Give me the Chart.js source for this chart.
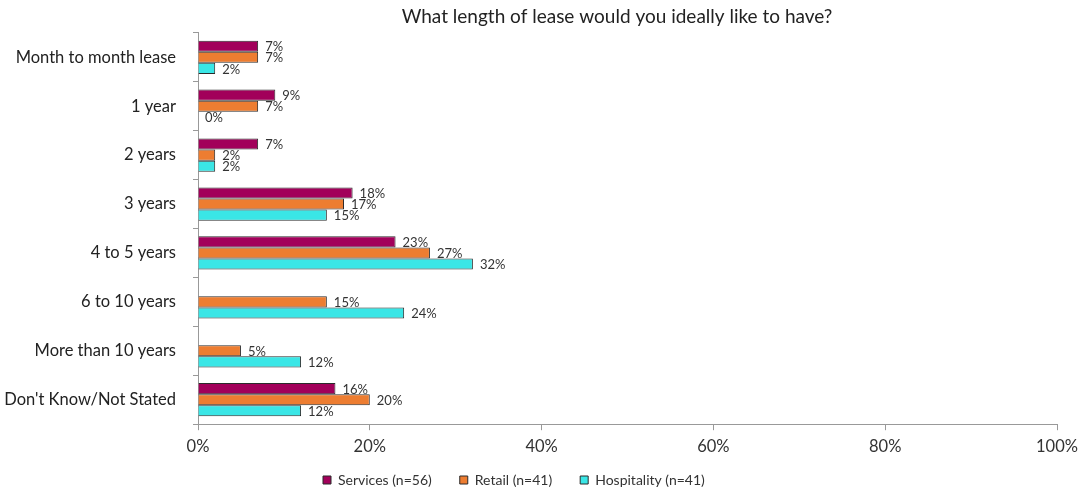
<!DOCTYPE html>
<html>
<head>
<meta charset="utf-8">
<script src="https://cdn.jsdelivr.net/npm/chart.js@4/dist/chart.umd.min.js"></script>
<style>
  html, body { margin: 0; padding: 0; background: #fff; }
  #wrap { width: 1086px; height: 497px; }
</style>
</head>
<body>
<div id="wrap"><canvas id="leaseChart" width="1086" height="497"></canvas></div>
<script>
const categories = [
    "Month to month lease",
    "1 year",
    "2 years",
    "3 years",
    "4 to 5 years",
    "6 to 10 years",
    "More than 10 years",
    "Don't Know/Not Stated"
];

// percentages, null = nothing reported
const services = [7, 9, 7, 18, 23, null, null, 16];
const retail = [7, 7, 2, 17, 27, 15, 5, 20];
const hospitality = [2, 0, 2, 15, 32, 24, 12, 12];

const xTicks = [0, 20, 40, 60, 80, 100];

const font = "Lato, 'Liberation Sans', sans-serif";

// writes the value next to the end of each bar
const valueLabels = {
    id: "valueLabels",
    afterDatasetsDraw(chart) {
        const c = chart.ctx;
        c.save();
        c.font = "13px " + font;
        c.fillStyle = "#333";
        c.textBaseline = "middle";
        c.textAlign = "left";
        chart.data.datasets.forEach((ds, i) => {
            const meta = chart.getDatasetMeta(i);
            meta.data.forEach((bar, j) => {
                const v = ds.data[j];
                if (v === null) return;
                c.fillText(v + "%", bar.x + 7, bar.y + 1);
            });
        });
        c.restore();
    }
};

// title sits over the plot; legend row starts at x=323 and is lifted
// so the wide item spacing doesn't push it off the bottom
const placeBlocks = {
    id: "placeBlocks",
    afterLayout(chart) {
        const area = chart.chartArea;
        chart.titleBlock.left = area.left - 21;
        chart.titleBlock.right = area.right;

        const lg = chart.legend;
        const pad = lg.options.labels.padding;
        const rowStart = (lg.left + pad + lg.right - lg.lineWidths[0]) / 2;
        const d = 323 - rowStart;
        lg.left += d;
        lg.right += d;
        lg.top -= 19;
    }
};

const ctx = document.getElementById("leaseChart");

const leaseChart = new Chart(ctx, {
    type: "bar",
    data: {
        labels: categories,
        datasets: [
            {
                label: "Services (n=56)",
                data: services,
                backgroundColor: "#A2005A",
                borderColor: "#2b2b2b",
                borderWidth: 1
            },
            {
                label: "Retail (n=41)",
                data: retail,
                backgroundColor: "#ED7D31",
                borderColor: "#2b2b2b",
                borderWidth: 1
            },
            {
                label: "Hospitality (n=41)",
                data: hospitality,
                backgroundColor: "#3AE6E6",
                borderColor: "#2b2b2b",
                borderWidth: 1
            }
        ]
    },
    options: {
        indexAxis: "y",
        responsive: false,
        animation: false,
        categoryPercentage: 0.68,
        barPercentage: 1,
        layout: {
            padding: { left: 0, right: 29, top: 0, bottom: 0 }
        },
        plugins: {
            title: {
                display: true,
                text: "What length of lease would you ideally like to have?",
                color: "#222",
                font: { family: font, size: 19, weight: "normal" },
                padding: { top: 5, bottom: 5 }
            },
            legend: {
                position: "bottom",
                maxHeight: 33,
                labels: {
                    color: "#333",
                    font: { family: font, size: 14 },
                    boxWidth: 8,
                    boxHeight: 8,
                    padding: 28
                }
            },
            tooltip: { enabled: false }
        },
        scales: {
            x: {
                min: 0,
                max: 100,
                afterBuildTicks(scale) {
                    scale.ticks = xTicks.map(v => ({ value: v }));
                },
                ticks: {
                    color: "#333",
                    font: { family: font, size: 16.5 },
                    padding: 7,
                    callback: v => v + "%"
                },
                grid: {
                    drawOnChartArea: false,
                    drawTicks: true,
                    tickLength: 6,
                    color: "#999"
                },
                border: { display: true, color: "#999" }
            },
            y: {
                afterFit(scale) {
                    scale.width = 198;
                },
                ticks: {
                    color: "#222",
                    font: { family: font, size: 16.5 },
                    padding: 17
                },
                grid: {
                    offset: true,
                    drawOnChartArea: false,
                    drawTicks: true,
                    tickLength: 5,
                    color: "#999"
                },
                border: { display: true, color: "#999" }
            }
        }
    },
    plugins: [valueLabels, placeBlocks]
});
</script>
</body>
</html>
